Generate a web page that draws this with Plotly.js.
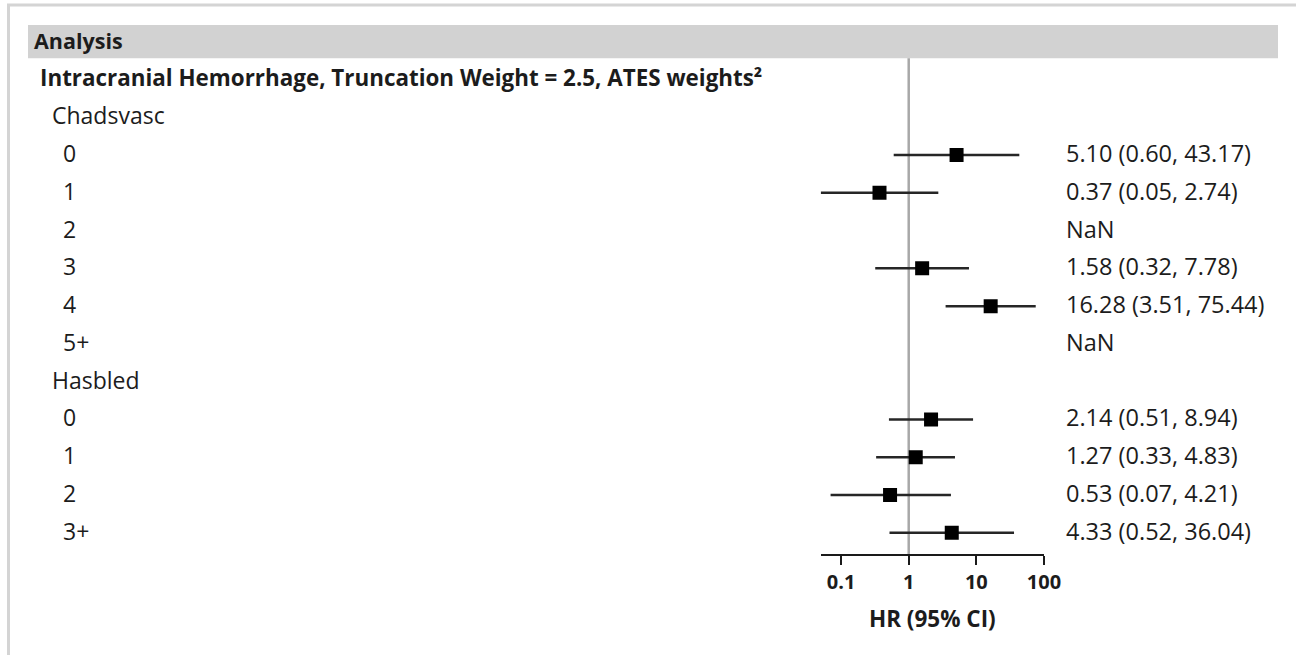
<!DOCTYPE html>
<html>
<head>
<meta charset="utf-8">
<script src="https://cdn.plot.ly/plotly-3.0.1.min.js"></script>
<style>html,body{margin:0;padding:0;background:#fff;}#chart{width:1296px;height:655px;}</style>
</head>
<body>
<div id="chart"></div>
<script>
// ---------- data ----------
const headerLabel = "Analysis";
const analysisLabel = "Intracranial Hemorrhage, Truncation Weight = 2.5, ATES weights²";
const groupNames = ["Chadsvasc", "Hasbled"];

const chadsCats  = ["0", "1", "2", "3", "4", "5+"];
const chadsHR    = [5.10, 0.37, null, 1.58, 16.28, null];
const chadsLower = [0.60, 0.05, null, 0.32, 3.51, null];
const chadsUpper = [43.17, 2.74, null, 7.78, 75.44, null];

const hasCats  = ["0", "1", "2", "3+"];
const hasHR    = [2.14, 1.27, 0.53, 4.33];
const hasLower = [0.51, 0.33, 0.07, 0.52];
const hasUpper = [8.94, 4.83, 4.21, 36.04];

const xTickVals = [0.1, 1, 10, 100];
const xTickText = ["0.1", "1", "10", "100"];
const xTitle = "HR (95% CI)";
const refHR = 1;

// ---------- build rows ----------
const W = 1296, H = 655;
const rows = [];
rows.push({label: headerLabel, level: -1});
rows.push({label: analysisLabel, level: 0});
const groupData = [
  {cats: chadsCats, hr: chadsHR, lo: chadsLower, hi: chadsUpper},
  {cats: hasCats, hr: hasHR, lo: hasLower, hi: hasUpper}
];
groupNames.forEach((g, gi) => {
  rows.push({label: g, level: 1});
  const d = groupData[gi];
  d.cats.forEach((c, i) => rows.push({label: c, level: 2, hr: d.hr[i], lo: d.lo[i], hi: d.hi[i], isData: true}));
});

const FONT = "'Open Sans', 'Noto Sans', sans-serif";
const TXT = "#1c1c1c";
const indentX = {"-1": 32, "0": 38, "1": 50, "2": 61};
const labelSize = {"-1": 21.5, "0": 22.4, "1": 23, "2": 23};

const annotations = [];
const mx = [], my = [], lx = [], ly = [];
rows.forEach((r, i) => {
  const bold = r.level <= 0;
  annotations.push({
    xref: "paper", yref: "y", x: indentX[r.level] / W, y: i, yshift: r.level === -1 ? 1 : 2,
    xanchor: "left", yanchor: "middle", showarrow: false,
    text: r.label,
    font: {family: FONT, size: labelSize[r.level], color: TXT, weight: bold ? "bold" : "normal"}
  });
  if (r.isData) {
    const has = r.hr !== null && r.hr !== undefined;
    annotations.push({
      xref: "paper", yref: "y", x: 1064 / W, y: i, yshift: 2,
      xanchor: "left", yanchor: "middle", showarrow: false,
      text: has ? `${r.hr.toFixed(2)} (${r.lo.toFixed(2)}, ${r.hi.toFixed(2)})` : "NaN",
      font: {family: FONT, size: 23.5, color: TXT}
    });
    if (has) {
      mx.push(r.hr); my.push(i);
      lx.push(r.lo, r.hi, null); ly.push(i, i, null);
    }
  }
});

const yTop = -0.44, yBot = 13.56;
const traces = [
  {x: [refHR, refHR], y: [0.44, yBot], mode: "lines", line: {color: "#a8a8a8", width: 2.5},
   hoverinfo: "skip", showlegend: false},
  {x: lx, y: ly, mode: "lines", line: {color: "#262626", width: 2.5},
   hoverinfo: "skip", showlegend: false},
  {x: mx, y: my, mode: "markers", marker: {symbol: "square", size: 14, color: "#000"},
   showlegend: false}
];

const layout = {
  width: W, height: H,
  margin: {l: 0, r: 0, t: 0, b: 0},
  paper_bgcolor: "#fff", plot_bgcolor: "rgba(0,0,0,0)",
  showlegend: false,
  xaxis: {
    type: "log", range: [Math.log10(0.05), 2],
    domain: [820.7 / W, 1044 / W],
    showgrid: false, zeroline: false,
    showline: true, linecolor: "#1a1a1a", linewidth: 2,
    ticks: "outside", ticklen: 9, tickwidth: 2, tickcolor: "#1a1a1a",
    tickvals: xTickVals, ticktext: xTickText,
    tickfont: {family: FONT, size: 20, color: TXT, weight: "bold"},
    title: {text: xTitle, font: {family: FONT, size: 22.5, color: TXT, weight: "bold"}, standoff: 17},
    fixedrange: true, automargin: false
  },
  yaxis: {
    range: [yBot, yTop], domain: [1 - 554 / H, 1 - 25 / H],
    visible: false, fixedrange: true
  },
  shapes: [
    {type: "rect", xref: "paper", yref: "y", x0: 28 / W, x1: 1278 / W, y0: yTop, y1: 0.44,
     fillcolor: "#d2d2d2", line: {width: 0}, layer: "below"},
    {type: "line", xref: "paper", yref: "paper", x0: 7 / W, x1: 1, y0: 1 - 5 / H, y1: 1 - 5 / H,
     line: {color: "#d4d4d4", width: 3}},
    {type: "line", xref: "paper", yref: "paper", x0: 8.5 / W, x1: 8.5 / W, y0: 0, y1: 1 - 4 / H,
     line: {color: "#d4d4d4", width: 3}}
  ],
  annotations: annotations
};

Plotly.newPlot("chart", traces, layout, {staticPlot: true, displayModeBar: false});
</script>
</body>
</html>
